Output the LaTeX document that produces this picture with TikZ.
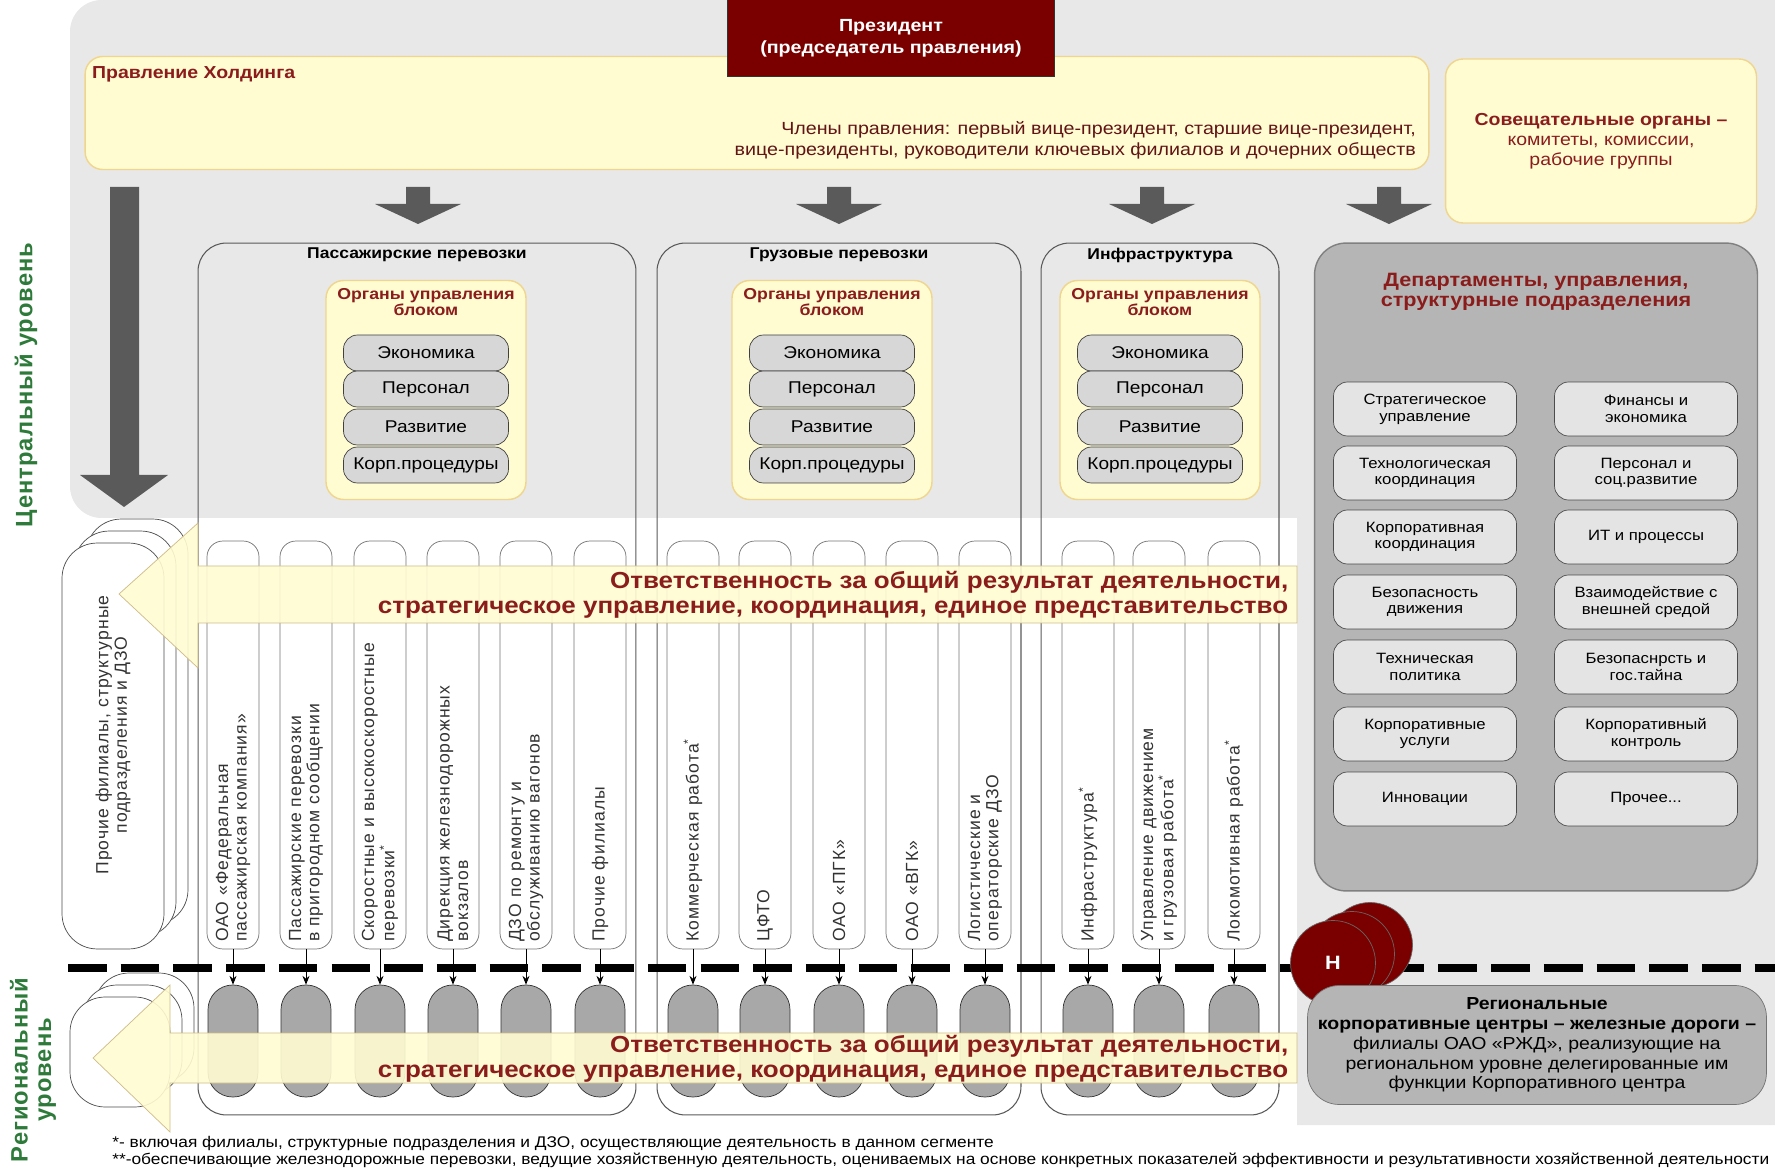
\documentclass[tikz,border=0pt]{standalone}
\usepackage{fontspec}
\setmainfont[FakeStretch=1.12]{Liberation Sans}
\newfontfamily\upfont{Liberation Sans}
\usetikzlibrary{arrows.meta,positioning}

\definecolor{bggray}{HTML}{E8E8E8}
\definecolor{paleyellow}{HTML}{FFFCD2}
\definecolor{yelline}{HTML}{F0D58C}
\definecolor{presred}{HTML}{7A0000}
\definecolor{redtext}{HTML}{8B1C1C}
\definecolor{deptfill}{HTML}{B5B5B5}
\definecolor{cellgray}{HTML}{E4E4E4}
\definecolor{subgray}{HTML}{D7D7D7}
\definecolor{ovalgray}{HTML}{A8A8A8}
\definecolor{arrowgray}{HTML}{5A5A5A}
\definecolor{levelgreen}{HTML}{2D7A3A}

\tikzset{
  yelbox/.style={draw=yelline, fill=paleyellow, rounded corners=10pt, line width=0.8pt},
  block/.style={draw=black!65, rounded corners=16pt, minimum height=17.44cm, line width=0.6pt},
  blocktitle/.style={font=\bfseries\fontsize{8.9}{10}\selectfont},
  organtitle/.style={align=center, text=redtext, font=\bfseries\fontsize{9}{9.5}\selectfont},
  subbox/.style={draw=black!75, fill=subgray, rounded corners=8pt, minimum width=3.3cm,
    minimum height=0.72cm, inner sep=1pt, font=\fontsize{9.7}{10}\selectfont},
  cell/.style={draw=black!70, fill=cellgray, rounded corners=8pt, minimum width=3.66cm,
    minimum height=1.08cm, align=center, inner sep=1pt, font=\fontsize{8.5}{9.5}\selectfont},
  unit/.style={draw=black!55, fill=white, rounded corners=9pt, minimum width=1.04cm,
    minimum height=8.16cm, inner sep=0pt},
  unittext/.style={rotate=90, anchor=west, align=left, inner sep=1pt, text=black!80,
    font=\upfont\addfontfeature{LetterSpace=6}\fontsize{10}{10.5}\selectfont},
  regoval/.style={draw=black!80, fill=ovalgray, rounded corners=14pt, minimum width=1cm,
    minimum height=2.24cm},
  stackbox/.style={draw=black!70, fill=white, rounded corners=20pt},
  tick/.style={-{Stealth[length=5pt,width=4pt]}, line width=0.5pt},
  resp/.style={align=right, text=redtext, inner sep=2pt,
    font=\bfseries\fontsize{13.2}{14}\selectfont},
  hcircle/.style={circle, draw=black!60, fill=presred, minimum size=1.7cm, inner sep=0pt,
    text=white, font=\bfseries\fontsize{11}{12}\selectfont},
  note/.style={inner sep=0pt, font=\fontsize{8.8}{9}\selectfont},
  level/.style={rotate=90, align=center, text=levelgreen,
    font=\upfont\bfseries\addfontfeature{LetterSpace=4}\fontsize{13.5}{15}\selectfont}
}

\begin{document}
\begin{tikzpicture}[x=0.02cm, y=-0.02cm]
\useasboundingbox (0,0) rectangle (1775,1168);

% background of the central level
\fill[bggray] (1297,518) [rounded corners=18pt] -- (70,518) -- (70,0) [sharp corners]
  -- (1775,0) -- (1775,1125) -- (1297,1125) -- cycle;

% board and president
\node[yelbox, minimum width=26.88cm, minimum height=2.26cm] (board) at (757,113) {};
\node[anchor=north west, text=redtext, font=\bfseries\fontsize{9.9}{11}\selectfont]
  (boardT) at (86,60) {Правление Холдинга};
\node[anchor=east, align=right, text=redtext!70!black, font=\fontsize{10}{12}\selectfont]
  (members) at (1422,140) {Члены правления: первый вице-президент, старшие вице-президент,\\
  вице-президенты, руководители ключевых филиалов и дочерних обществ};
\node[draw=black!80, fill=presred, minimum width=6.54cm, minimum height=1.54cm, align=center,
  text=white, font=\bfseries\fontsize{10}{12.5}\selectfont] (pres) at (891,38)
  {Президент\\(председатель правления)};
\node[yelbox, minimum width=6.22cm, minimum height=3.28cm, align=center, text=redtext,
  font=\fontsize{9.9}{11.5}\selectfont] (council) at (1601,141)
  {\textbf{Совещательные органы –}\\комитеты, комиссии,\\рабочие группы};

% gray block arrows
\foreach \cx in {418,839,1152,1389}
  \fill[arrowgray] (\cx-12,187) -- (\cx+12,187) -- (\cx+12,204) -- (\cx+43,204)
    -- (\cx,224) -- (\cx-43,204) -- (\cx-12,204) -- cycle;
\fill[arrowgray] (110,187) -- (139,187) -- (139,475) -- (168,475) -- (124,507)
  -- (80,475) -- (110,475) -- cycle;

% business blocks
\node[block, minimum width=8.76cm] (pass) at (417,679) {};
\node[block, minimum width=7.28cm] (cargo) at (839,679) {};
\node[block, minimum width=4.76cm] (infra) at (1160,679) {};
\node[blocktitle] (passT) at (417,255) {Пассажирские перевозки};
\node[blocktitle] (cargoT) at (839,255) {Грузовые перевозки};
\node[blocktitle] (infraT) at (1160,255) {Инфраструктура};

\foreach \b/\cx in {pass/426, cargo/832, infra/1160} {
  \node[yelbox, minimum width=4cm, minimum height=4.38cm] (\b O) at (\cx,390) {};
  \node[organtitle] (\b OT) at (\cx,302) {Органы управления\\блоком};
  \foreach \y/\t [count=\i] in {353/Экономика, 389/Персонал, 427/Развитие, 465/Корп.процедуры}
    \node[subbox] (\b S\i) at (\cx,\y) {\t};
}

% departments
\node[draw=black!50, fill=deptfill, rounded corners=18pt, minimum width=8.86cm,
  minimum height=12.96cm, line width=0.8pt] (dept) at (1536,567) {};
\node[align=center, text=redtext, font=\bfseries\fontsize{11}{11.5}\selectfont]
  (deptT) at (1536,292) {Департаменты, управления,\\структурные подразделения};
\foreach \y/\l/\r [count=\i] in {
  409/{Стратегическое\\управление}/{Финансы и\\экономика},
  473/{Технологическая\\координация}/{Персонал и\\соц.развитие},
  537/{Корпоративная\\координация}/{ИТ и процессы},
  602/{Безопасность\\движения}/{Взаимодействие с\\внешней средой},
  667/{Техническая\\политика}/{Безопаснрсть и\\гос.тайна},
  734/{Корпоративные\\услуги}/{Корпоративный\\контроль},
  799/{Инновации}/{Прочее...}} {
  \node[cell] (dl\i) at (1425,\y) {\l};
  \node[cell] (dr\i) at (1646,\y) {\r};
}

% other branches, central and regional
\foreach \d/\n in {24/othC3, 12/othC2} \node[stackbox, minimum width=2.04cm,
  minimum height=8.12cm] (\n) at (113+\d,746-\d) {};
\node[stackbox, minimum width=2.04cm, minimum height=8.12cm] (othC) at (113,746) {};
\node[rotate=90, align=center, text=black!80,
  font=\upfont\addfontfeature{LetterSpace=6}\fontsize{10}{10.5}\selectfont]
  (othCT) at (113,735) {Прочие филиалы, структурные\\подразделения и ДЗО};
\foreach \d/\n in {24/othR3, 12/othR2} \node[stackbox, minimum width=2cm,
  minimum height=2.2cm] (\n) at (120+\d,1052-\d) {};
\node[stackbox, minimum width=2cm, minimum height=2.2cm] (othR) at (120,1052) {};

% units of the blocks
\foreach \cx/\n/\t in {
  233/u1/{ОАО «Федеральная\\пассажирская компания»},
  306/u2/{Пассажирские перевозки\\в пригородном сообщении},
  380/u3/{Скоростные и высокоскоростные\\перевозки\textsuperscript{*}},
  453/u4/{Дирекция железнодорожных\\вокзалов},
  526/u5/{ДЗО по ремонту и\\обслуживанию вагонов},
  600/u6/{Прочие филиалы},
  693/u7/{Коммерческая работа\textsuperscript{*}},
  765/u8/{ЦФТО},
  839/u9/{ОАО «ПГК»},
  912/u10/{ОАО «ВГК»},
  985/u11/{Логистические и\\операторские ДЗО},
  1088/u12/{Инфраструктура\textsuperscript{*}},
  1159/u13/{Управление движением\\и грузовая работа\textsuperscript{*}},
  1234/u14/{Локомотивная работа\textsuperscript{*}}} {
  \node[unit] (\n) at (\cx,745) {};
  \node[unittext] (\n t) at ([yshift=3pt]\n.south) {\t};
  \node[regoval] (o\n) at (\cx,1041) {};
}

% border of the levels
\draw[line width=4.5pt, dash pattern=on 22pt off 8pt] (68,968) -- (1775,968);
\foreach \n in {u1,u2,u3,u4,u5,u6,u7,u8,u9,u10,u11,u12,u13,u14}
  \draw[tick] (\n.south) -- (o\n.north);

% responsibility arrows
\filldraw[fill=paleyellow, draw=yelline!70!gray, fill opacity=0.9]
  (1297,566) -- (198,566) -- (198,523) -- (119,594) -- (198,668) -- (198,623)
  -- (1297,623) -- cycle;
\node[resp, anchor=east] (resp1) at (1292,595)
  {Ответственность за общий результат деятельности,\\
   стратегическое управление, координация, единое представительство};
\filldraw[fill=paleyellow, draw=yelline!70!gray, fill opacity=0.9]
  (1297,1033) -- (170,1033) -- (170,985) -- (93,1058) -- (170,1132) -- (170,1083)
  -- (1297,1083) -- cycle;
\node[resp, anchor=east] (resp2) at (1292,1059)
  {Ответственность за общий результат деятельности,\\
   стратегическое управление, координация, единое представительство};

% regional centres
\node[hcircle] (h3) at (1370,945) {};
\node[hcircle] (h2) at (1352,954) {};
\node[hcircle] (h1) at (1333,963) {Н};
\node[draw=black!55, fill=deptfill, rounded corners=18pt, minimum width=9.18cm,
  minimum height=2.38cm, align=center, font=\fontsize{9.9}{11.3}\selectfont]
  (region) at (1537,1045)
  {\textbf{Региональные}\\\textbf{корпоративные центры – железные дороги –}\\
   филиалы ОАО «РЖД», реализующие на\\региональном уровне делегированные им\\
   функции Корпоративного центра};

% level labels
\node[level] (lvlC) at (26,385) {Центральный  уровень};
\node[level, font=\upfont\bfseries\addfontfeature{LetterSpace=4}\fontsize{13.5}{13.5}\selectfont]
  (lvlR) at (33,1070) {Региональный\\уровень};

% footnotes
\node[note, anchor=north west] (note1) at (112,1136)
  {*- включая филиалы, структурные подразделения и ДЗО, осуществляющие деятельность в данном сегменте};
\node[note, anchor=north west] (note2) at (112,1153)
  {**-обеспечивающие железнодорожные перевозки, ведущие хозяйственную деятельность, оцениваемых на основе конкретных показателей эффективности и результативности хозяйственной деятельности};
\end{tikzpicture}
\end{document}
